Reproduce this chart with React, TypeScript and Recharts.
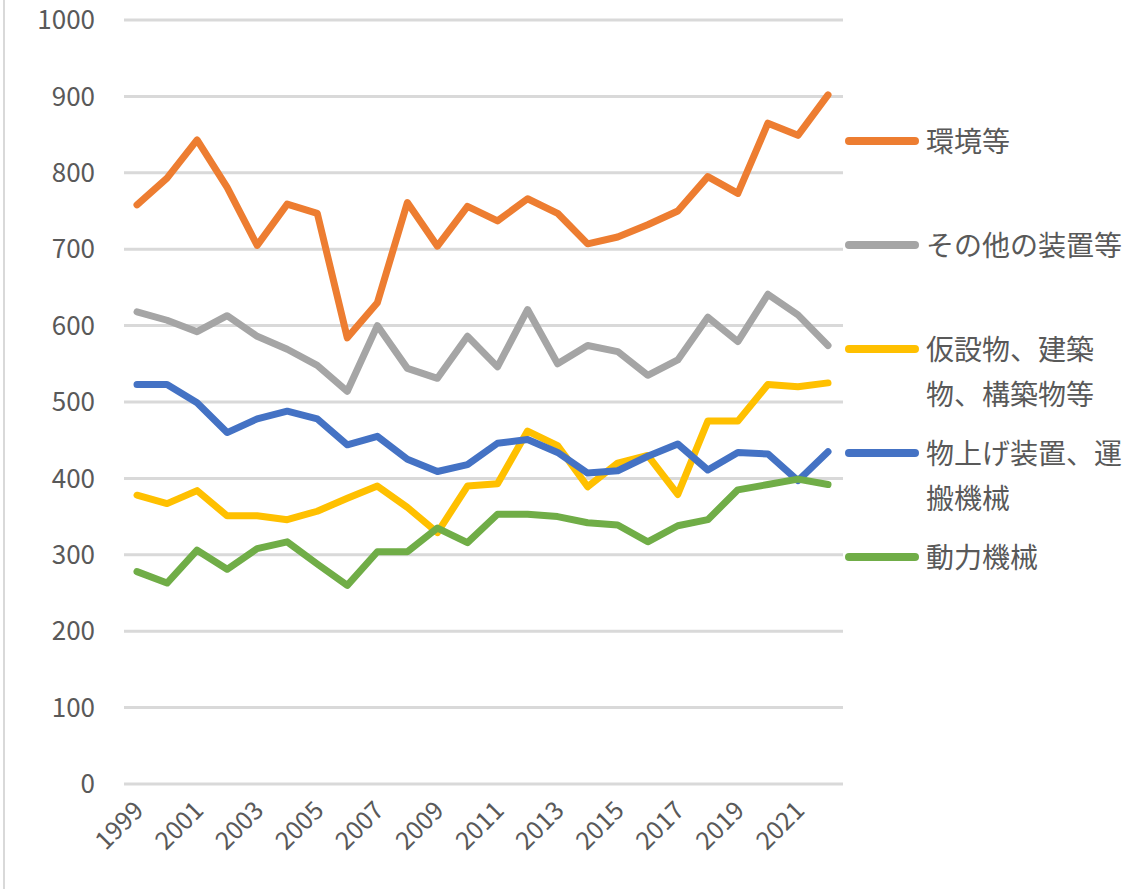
import { CartesianGrid, Line, LineChart, XAxis, YAxis } from "recharts";

const years = [
  1999, 2000, 2001, 2002, 2003, 2004, 2005, 2006, 2007, 2008, 2009, 2010,
  2011, 2012, 2013, 2014, 2015, 2016, 2017, 2018, 2019, 2020, 2021, 2022,
];

const environment = [
  758, 793, 843, 781, 705, 759, 747, 584, 630, 761, 704, 756,
  737, 766, 747, 707, 716, 732, 750, 795, 773, 865, 849, 902,
];

const otherDevices = [
  618, 607, 592, 613, 586, 569, 548, 514, 600, 544, 531, 586,
  546, 621, 550, 574, 566, 535, 555, 611, 579, 641, 614, 574,
];

const temporaryStructures = [
  378, 367, 384, 351, 351, 346, 357, 374, 390, 362, 329, 390,
  393, 462, 443, 389, 420, 430, 379, 475, 475, 523, 520, 525,
];

const liftingMachines = [
  523, 523, 499, 460, 478, 488, 478, 444, 455, 425, 409, 418,
  446, 451, 434, 407, 410, 429, 445, 411, 434, 432, 397, 435,
];

const powerMachines = [
  278, 263, 306, 281, 308, 317, 288, 260, 304, 304, 335, 316,
  353, 353, 350, 342, 339, 317, 338, 346, 385, 392, 399, 392,
];

const yTicks = [0, 100, 200, 300, 400, 500, 600, 700, 800, 900, 1000];

const series = [
  { key: "env", name: "環境等", color: "#ED7D31", values: environment },
  { key: "other", name: "その他の装置等", color: "#A5A5A5", values: otherDevices },
  { key: "temp", name: "仮設物、建築物、構築物等", color: "#FFC000", values: temporaryStructures },
  { key: "lift", name: "物上げ装置、運搬機械", color: "#4472C4", values: liftingMachines },
  { key: "power", name: "動力機械", color: "#70AD47", values: powerMachines },
];

const data = years.map((year, i) => {
  const row: Record<string, number> = { year };
  series.forEach((s) => {
    row[s.key] = s.values[i];
  });
  return row;
});

const FONT = '"Noto Sans CJK JP", "Noto Sans", sans-serif';
const TEXT = "#595959";

function YearTick({ x, y, payload }: any) {
  const ax = x + 8;
  const ay = y + 28;
  return (
    <text
      x={ax}
      y={ay}
      transform={`rotate(-45, ${ax}, ${ay})`}
      textAnchor="end"
      fill={TEXT}
      fontSize={25}
      fontFamily={FONT}
    >
      {payload.value}
    </text>
  );
}

function SideLegend() {
  return (
    <div
      style={{
        position: "absolute",
        left: 845,
        top: 118,
        fontFamily: FONT,
        color: TEXT,
        fontSize: 28,
      }}
    >
      {series.map((s) => (
        <div key={s.key} style={{ display: "flex", height: 104 }}>
          <div
            style={{
              width: 74,
              height: 8,
              borderRadius: 4,
              background: s.color,
              marginTop: 19,
              marginRight: 7,
              flexShrink: 0,
            }}
          />
          <div style={{ width: 210, lineHeight: "45px" }}>{s.name}</div>
        </div>
      ))}
    </div>
  );
}

export default function App() {
  return (
    <div
      style={{
        position: "absolute",
        left: 0,
        top: 0,
        width: 1133,
        height: 889,
        background: "#fff",
      }}
    >
      <div
        style={{
          position: "absolute",
          left: 3,
          top: 0,
          width: 2,
          height: 889,
          background: "#d9d9d9",
        }}
      />
      <LineChart
        width={1133}
        height={889}
        data={data}
        margin={{ top: 20, right: 290, bottom: 0, left: 0 }}
      >
        <CartesianGrid stroke="#d9d9d9" strokeWidth={3} vertical={false} />
        <XAxis
          dataKey="year"
          interval={1}
          tickLine={false}
          axisLine={false}
          tickSize={0}
          tickMargin={0}
          height={105}
          padding={{ left: 13, right: 15 }}
          tick={<YearTick />}
        />
        <YAxis
          width={124}
          domain={[0, 1000]}
          ticks={yTicks}
          interval={0}
          tickLine={false}
          axisLine={false}
          tickSize={0}
          tickMargin={29}
          tick={{ fill: TEXT, fontSize: 26, fontFamily: FONT }}
        />
        {series.map((s) => (
          <Line
            key={s.key}
            type="linear"
            dataKey={s.key}
            name={s.name}
            stroke={s.color}
            strokeWidth={7}
            strokeLinejoin="round"
            strokeLinecap="round"
            dot={false}
            isAnimationActive={false}
          />
        ))}
      </LineChart>
      <SideLegend />
    </div>
  );
}
